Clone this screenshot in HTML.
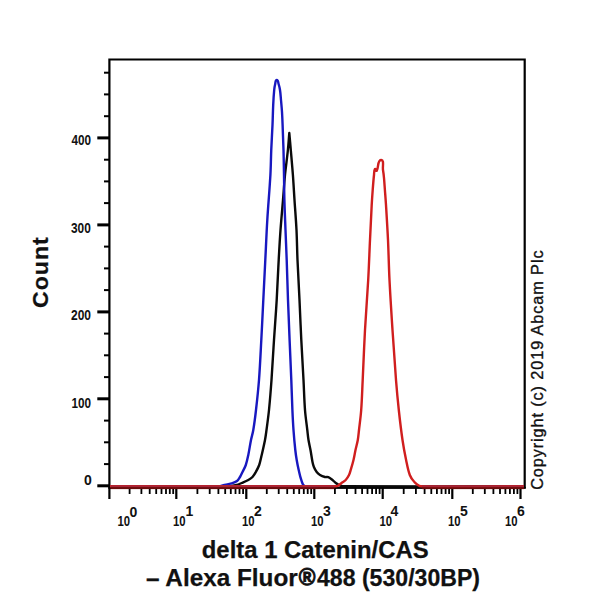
<!DOCTYPE html>
<html><head><meta charset="utf-8"><style>
html,body{margin:0;padding:0;background:#fff;}
svg{display:block;}
.b{font-family:"Liberation Sans",sans-serif;font-weight:bold;fill:#111;stroke:#111;stroke-width:0.25px;}
.r{font-family:"Liberation Sans",sans-serif;font-weight:normal;fill:#111;stroke:#111;stroke-width:0.35px;}
.tk{font-family:"Liberation Sans",sans-serif;font-weight:bold;font-size:13.5px;fill:#111;}
.ttl{font-family:"Liberation Sans",sans-serif;font-weight:bold;font-size:23px;fill:#111;}
.cp{font-family:"Liberation Sans",sans-serif;font-size:15px;fill:#111;}
</style></head><body>
<svg width="600" height="600" viewBox="0 0 600 600">
<rect width="600" height="600" fill="#fff"/>
<g fill="none" stroke="#000" stroke-width="2.2">
<path d="M109.4 499 L109.4 59.5 L524.7 59.5 L524.7 488"/>
</g>
<rect x="108.3" y="486.8" width="417.5" height="2.1" fill="#000"/>
<rect x="128.7" y="487" width="1.8" height="7" fill="#000"/>
<rect x="140.5" y="487" width="1.8" height="7" fill="#000"/>
<rect x="148.8" y="487" width="1.8" height="7" fill="#000"/>
<rect x="155.3" y="487" width="1.8" height="7" fill="#000"/>
<rect x="160.6" y="487" width="1.8" height="7" fill="#000"/>
<rect x="165.1" y="487" width="1.8" height="7" fill="#000"/>
<rect x="168.9" y="487" width="1.8" height="7" fill="#000"/>
<rect x="172.3" y="487" width="1.8" height="7" fill="#000"/>
<rect x="175.2" y="487" width="2.2" height="12" fill="#000"/>
<rect x="196.5" y="487" width="1.8" height="7" fill="#000"/>
<rect x="208.8" y="487" width="1.8" height="7" fill="#000"/>
<rect x="217.5" y="487" width="1.8" height="7" fill="#000"/>
<rect x="224.3" y="487" width="1.8" height="7" fill="#000"/>
<rect x="229.9" y="487" width="1.8" height="7" fill="#000"/>
<rect x="234.6" y="487" width="1.8" height="7" fill="#000"/>
<rect x="238.6" y="487" width="1.8" height="7" fill="#000"/>
<rect x="242.2" y="487" width="1.8" height="7" fill="#000"/>
<rect x="245.2" y="487" width="2.2" height="12" fill="#000"/>
<rect x="265.9" y="487" width="1.8" height="7" fill="#000"/>
<rect x="277.8" y="487" width="1.8" height="7" fill="#000"/>
<rect x="286.3" y="487" width="1.8" height="7" fill="#000"/>
<rect x="292.9" y="487" width="1.8" height="7" fill="#000"/>
<rect x="298.3" y="487" width="1.8" height="7" fill="#000"/>
<rect x="302.9" y="487" width="1.8" height="7" fill="#000"/>
<rect x="306.8" y="487" width="1.8" height="7" fill="#000"/>
<rect x="310.3" y="487" width="1.8" height="7" fill="#000"/>
<rect x="313.2" y="487" width="2.2" height="12" fill="#000"/>
<rect x="334.0" y="487" width="1.8" height="7" fill="#000"/>
<rect x="346.0" y="487" width="1.8" height="7" fill="#000"/>
<rect x="354.6" y="487" width="1.8" height="7" fill="#000"/>
<rect x="361.2" y="487" width="1.8" height="7" fill="#000"/>
<rect x="366.6" y="487" width="1.8" height="7" fill="#000"/>
<rect x="371.2" y="487" width="1.8" height="7" fill="#000"/>
<rect x="375.2" y="487" width="1.8" height="7" fill="#000"/>
<rect x="378.7" y="487" width="1.8" height="7" fill="#000"/>
<rect x="381.6" y="487" width="2.2" height="12" fill="#000"/>
<rect x="402.8" y="487" width="1.8" height="7" fill="#000"/>
<rect x="415.0" y="487" width="1.8" height="7" fill="#000"/>
<rect x="423.7" y="487" width="1.8" height="7" fill="#000"/>
<rect x="430.4" y="487" width="1.8" height="7" fill="#000"/>
<rect x="436.0" y="487" width="1.8" height="7" fill="#000"/>
<rect x="440.6" y="487" width="1.8" height="7" fill="#000"/>
<rect x="444.7" y="487" width="1.8" height="7" fill="#000"/>
<rect x="448.2" y="487" width="1.8" height="7" fill="#000"/>
<rect x="451.2" y="487" width="2.2" height="12" fill="#000"/>
<rect x="471.9" y="487" width="1.8" height="7" fill="#000"/>
<rect x="483.9" y="487" width="1.8" height="7" fill="#000"/>
<rect x="492.5" y="487" width="1.8" height="7" fill="#000"/>
<rect x="499.1" y="487" width="1.8" height="7" fill="#000"/>
<rect x="504.5" y="487" width="1.8" height="7" fill="#000"/>
<rect x="509.0" y="487" width="1.8" height="7" fill="#000"/>
<rect x="513.0" y="487" width="1.8" height="7" fill="#000"/>
<rect x="516.5" y="487" width="1.8" height="7" fill="#000"/>
<rect x="519.4" y="487" width="2.2" height="12" fill="#000"/>
<rect x="97.3" y="484.3" width="12" height="3" fill="#000"/>
<rect x="104" y="463.1" width="5.5" height="2" fill="#000"/>
<rect x="104" y="441.3" width="5.5" height="2" fill="#000"/>
<rect x="104" y="419.6" width="5.5" height="2" fill="#000"/>
<rect x="97.3" y="397.3" width="12" height="3" fill="#000"/>
<rect x="104" y="376.1" width="5.5" height="2" fill="#000"/>
<rect x="104" y="354.3" width="5.5" height="2" fill="#000"/>
<rect x="104" y="332.6" width="5.5" height="2" fill="#000"/>
<rect x="97.3" y="310.4" width="12" height="3" fill="#000"/>
<rect x="104" y="289.1" width="5.5" height="2" fill="#000"/>
<rect x="104" y="267.4" width="5.5" height="2" fill="#000"/>
<rect x="104" y="245.6" width="5.5" height="2" fill="#000"/>
<rect x="97.3" y="223.4" width="12" height="3" fill="#000"/>
<rect x="104" y="202.1" width="5.5" height="2" fill="#000"/>
<rect x="104" y="180.4" width="5.5" height="2" fill="#000"/>
<rect x="104" y="158.7" width="5.5" height="2" fill="#000"/>
<rect x="97.3" y="136.4" width="12" height="3" fill="#000"/>
<rect x="104" y="115.2" width="5.5" height="2" fill="#000"/>
<rect x="104" y="93.4" width="5.5" height="2" fill="#000"/>
<rect x="104" y="71.7" width="5.5" height="2" fill="#000"/>
<g fill="none" stroke-width="2.4" stroke-linejoin="round">
<path d="M110.00 486.20 C150.00 486.20 190.00 486.58 230.00 486.20 C232.27 486.18 234.51 485.60 236.70 485.00 C238.43 484.53 240.05 483.71 241.70 483.00 C243.92 482.04 246.19 481.17 248.30 480.00 C249.80 479.16 251.32 478.26 252.50 477.00 C253.87 475.54 254.83 473.74 255.80 472.00 C257.06 469.74 258.35 467.45 259.20 465.00 C260.33 461.75 260.92 458.35 261.70 455.00 C262.86 450.01 264.03 445.03 265.00 440.00 C265.64 436.69 266.05 433.34 266.50 430.00 C267.39 423.34 268.33 416.69 269.00 410.00 C270.00 400.02 270.79 390.01 271.50 380.00 C272.45 366.67 273.13 353.33 274.00 340.00 C274.87 326.66 275.92 313.34 276.70 300.00 C277.48 286.67 277.98 273.33 278.70 260.00 C279.24 250.00 279.78 239.99 280.50 230.00 C281.22 219.99 282.18 210.00 283.00 200.00 C283.68 191.67 284.18 183.32 285.00 175.00 C285.82 166.65 287.05 158.35 287.90 150.00 C288.48 144.34 288.83 138.67 289.30 133.00 C289.80 138.67 290.31 144.33 290.80 150.00 C291.51 158.33 292.28 166.66 292.90 175.00 C293.52 183.33 293.95 191.67 294.50 200.00 C295.15 210.00 296.00 219.99 296.50 230.00 C297.00 239.99 297.07 250.00 297.50 260.00 C298.07 273.34 298.87 286.67 299.50 300.00 C300.13 313.33 300.63 326.67 301.30 340.00 C301.97 353.34 302.80 366.67 303.50 380.00 C304.03 390.00 304.24 400.02 305.00 410.00 C305.51 416.69 306.52 423.33 307.30 430.00 C307.69 433.33 307.97 436.68 308.50 440.00 C309.04 443.36 309.89 446.66 310.50 450.00 C311.23 453.99 311.70 458.02 312.50 462.00 C312.84 463.70 313.23 465.40 313.90 467.00 C314.64 468.76 315.54 470.48 316.70 472.00 C317.60 473.18 318.73 474.23 320.00 475.00 C321.54 475.93 323.26 476.54 325.00 477.00 C326.07 477.28 327.28 476.79 328.30 477.20 C329.86 477.82 331.17 478.97 332.50 480.00 C333.68 480.91 334.62 482.09 335.80 483.00 C336.80 483.77 337.85 484.49 339.00 485.00 C340.27 485.57 341.61 486.19 343.00 486.20 C403.33 486.59 463.67 486.20 524.00 486.20" stroke="#0a0a0a"/>
<path d="M200.00 486.20 C206.33 486.20 212.67 486.47 219.00 486.20 C220.47 486.14 221.87 485.53 223.30 485.20 C226.10 484.56 228.96 484.14 231.70 483.30 C233.54 482.74 235.47 482.16 237.00 481.00 C238.33 479.99 239.13 478.42 240.00 477.00 C240.97 475.41 241.69 473.68 242.50 472.00 C243.62 469.68 244.97 467.44 245.80 465.00 C246.91 461.75 247.60 458.36 248.30 455.00 C249.33 450.03 250.00 444.98 251.00 440.00 C251.67 436.65 252.74 433.37 253.30 430.00 C254.41 423.36 255.24 416.68 256.00 410.00 C257.14 400.01 258.24 390.02 259.00 380.00 C260.01 366.68 260.58 353.34 261.30 340.00 C262.02 326.67 262.63 313.33 263.30 300.00 C263.97 286.67 264.63 273.33 265.30 260.00 C265.97 246.67 266.50 233.33 267.30 220.00 C268.20 204.99 269.55 190.01 270.40 175.00 C270.87 166.68 270.90 158.33 271.25 150.00 C271.60 141.66 272.14 133.34 272.50 125.00 C272.79 118.34 272.88 111.66 273.20 105.00 C273.44 99.99 273.72 94.99 274.20 90.00 C274.39 87.98 274.69 85.96 275.20 84.00 C275.56 82.61 275.36 80.00 276.80 80.00 C278.26 80.00 278.15 82.61 278.60 84.00 C279.23 85.96 279.70 87.97 280.00 90.00 C280.50 93.31 280.70 96.66 281.00 100.00 C281.36 104.00 281.74 107.99 282.00 112.00 C282.28 116.33 282.43 120.67 282.60 125.00 C282.93 133.33 283.27 141.66 283.50 150.00 C283.73 158.33 283.85 166.67 284.00 175.00 C284.15 183.33 284.17 191.67 284.40 200.00 C284.67 210.00 285.12 220.00 285.50 230.00 C285.88 240.00 286.34 250.00 286.70 260.00 C287.18 273.33 287.52 286.67 288.00 300.00 C288.48 313.34 289.05 326.67 289.60 340.00 C290.15 353.33 290.77 366.67 291.30 380.00 C291.70 390.00 291.96 400.00 292.40 410.00 C292.69 416.67 293.02 423.34 293.50 430.00 C293.98 436.68 294.59 443.34 295.30 450.00 C295.66 453.35 296.14 456.68 296.70 460.00 C297.27 463.35 297.94 466.69 298.70 470.00 C299.47 473.36 300.10 476.77 301.30 480.00 C302.12 482.21 302.49 485.38 304.70 486.20 C308.86 487.74 313.57 486.20 318.00 486.20" stroke="#1818c0"/>
<path d="M110.00 486.20 C185.33 486.20 260.67 486.43 336.00 486.20 C336.80 486.20 337.61 485.90 338.30 485.50 C339.47 484.82 340.41 483.81 341.50 483.00 C342.88 481.97 344.52 481.26 345.70 480.00 C347.07 478.54 348.11 476.79 349.00 475.00 C349.79 473.43 350.19 471.69 350.70 470.00 C351.69 466.68 352.69 463.37 353.50 460.00 C354.29 456.69 354.79 453.32 355.50 450.00 C356.22 446.66 357.21 443.37 357.80 440.00 C358.38 436.69 358.62 433.34 359.00 430.00 C359.76 423.34 360.71 416.69 361.20 410.00 C361.94 400.01 362.22 390.00 362.70 380.00 C363.49 363.33 364.08 346.66 365.00 330.00 C365.92 313.32 367.27 296.68 368.20 280.00 C368.94 266.67 369.38 253.33 370.00 240.00 C370.54 228.33 371.07 216.66 371.70 205.00 C371.97 200.00 372.32 195.00 372.70 190.00 C373.08 185.00 373.45 179.99 374.00 175.00 C374.22 172.98 373.90 170.71 375.00 169.00 C375.45 168.31 376.24 171.49 376.70 170.80 C378.85 167.58 377.16 160.49 381.00 160.00 C384.37 159.57 382.44 166.65 383.00 170.00 C383.44 172.65 383.75 175.32 384.00 178.00 C384.38 181.99 384.60 186.00 384.90 190.00 C385.27 195.00 385.69 200.00 386.00 205.00 C386.72 216.66 387.46 228.33 388.00 240.00 C388.62 253.33 388.83 266.67 389.50 280.00 C390.33 296.68 391.42 313.34 392.50 330.00 C393.58 346.67 394.69 363.34 396.00 380.00 C396.79 390.01 397.72 400.01 398.80 410.00 C399.89 420.02 401.04 430.03 402.50 440.00 C403.48 446.70 404.72 453.37 406.10 460.00 C407.15 465.04 407.98 470.18 409.80 475.00 C410.79 477.61 412.44 480.01 414.40 482.00 C416.19 483.82 418.25 486.10 420.80 486.20 C455.17 487.52 489.60 486.20 524.00 486.20" stroke="#d01e1e"/>
</g>
<rect x="110.5" y="485.3" width="224" height="2.1" fill="#a82436"/>
<rect x="110.5" y="487.3" width="224" height="1.8" fill="#6a0a0a"/>
<rect x="422" y="485.3" width="102" height="2.1" fill="#a82436"/>
<rect x="422" y="487.3" width="102" height="1.8" fill="#6a0a0a"/>
<text x="201.80" y="558.00" class="b" font-size="23.00" textLength="226.76" lengthAdjust="spacingAndGlyphs">delta 1 Catenin/CAS</text>
<text x="146.00" y="586.00" class="b" font-size="23.00" textLength="151.73" lengthAdjust="spacingAndGlyphs">– Alexa Fluor</text>
<text x="298.80" y="585.20" class="b" font-size="23.00" style="stroke-width:0.90px" textLength="16.71" lengthAdjust="spacingAndGlyphs">®</text>
<text x="317.00" y="586.00" class="b" font-size="23.00" textLength="163.01" lengthAdjust="spacingAndGlyphs">488 (530/30BP)</text>
<text transform="translate(48.20 308.00) rotate(-90) scale(1.050 1)" class="b" font-size="22.00" textLength="67.37" lengthAdjust="spacing">Count</text>
<text transform="translate(542.80 489.80) rotate(-90) scale(1.000 1)" class="r" font-size="16.30" textLength="239.34" lengthAdjust="spacing">Copyright (c) 2019 Abcam Plc</text>
<text x="71.50" y="145.00" class="b" font-size="14.00" style="stroke-width:0.00px" textLength="19.52" lengthAdjust="spacingAndGlyphs">400</text>
<text x="71.00" y="233.00" class="b" font-size="14.00" style="stroke-width:0.00px" textLength="19.82" lengthAdjust="spacingAndGlyphs">300</text>
<text x="71.00" y="320.00" class="b" font-size="14.00" style="stroke-width:0.00px" textLength="20.00" lengthAdjust="spacingAndGlyphs">200</text>
<text x="71.50" y="407.50" class="b" font-size="14.00" style="stroke-width:0.00px" textLength="19.56" lengthAdjust="spacingAndGlyphs">100</text>
<text x="84.00" y="485.00" class="b" font-size="14.00" style="stroke-width:0.00px">0</text>
<text x="117.50" y="526.00" class="b" font-size="14.00" style="stroke-width:0.00px" textLength="12.60" lengthAdjust="spacingAndGlyphs">10</text>
<text x="173.00" y="526.00" class="b" font-size="14.00" style="stroke-width:0.00px" textLength="12.60" lengthAdjust="spacingAndGlyphs">10</text>
<text x="242.00" y="526.00" class="b" font-size="14.00" style="stroke-width:0.00px" textLength="12.60" lengthAdjust="spacingAndGlyphs">10</text>
<text x="311.00" y="526.00" class="b" font-size="14.00" style="stroke-width:0.00px" textLength="12.60" lengthAdjust="spacingAndGlyphs">10</text>
<text x="379.50" y="526.00" class="b" font-size="14.00" style="stroke-width:0.00px" textLength="12.60" lengthAdjust="spacingAndGlyphs">10</text>
<text x="448.00" y="526.00" class="b" font-size="14.00" style="stroke-width:0.00px" textLength="12.60" lengthAdjust="spacingAndGlyphs">10</text>
<text x="505.00" y="526.00" class="b" font-size="14.00" style="stroke-width:0.00px" textLength="12.60" lengthAdjust="spacingAndGlyphs">10</text>
<text x="129.50" y="516.50" class="b" font-size="14.00" style="stroke-width:0.00px">0</text>
<text x="185.50" y="516.00" class="b" font-size="14.00" style="stroke-width:0.00px">1</text>
<text x="254.00" y="515.50" class="b" font-size="14.00" style="stroke-width:0.00px">2</text>
<text x="323.00" y="516.00" class="b" font-size="14.00" style="stroke-width:0.00px">3</text>
<text x="390.50" y="515.50" class="b" font-size="14.00" style="stroke-width:0.00px">4</text>
<text x="460.00" y="516.00" class="b" font-size="14.00" style="stroke-width:0.00px">5</text>
<text x="517.00" y="515.50" class="b" font-size="14.00" style="stroke-width:0.00px">6</text>

</svg>
</body></html>
